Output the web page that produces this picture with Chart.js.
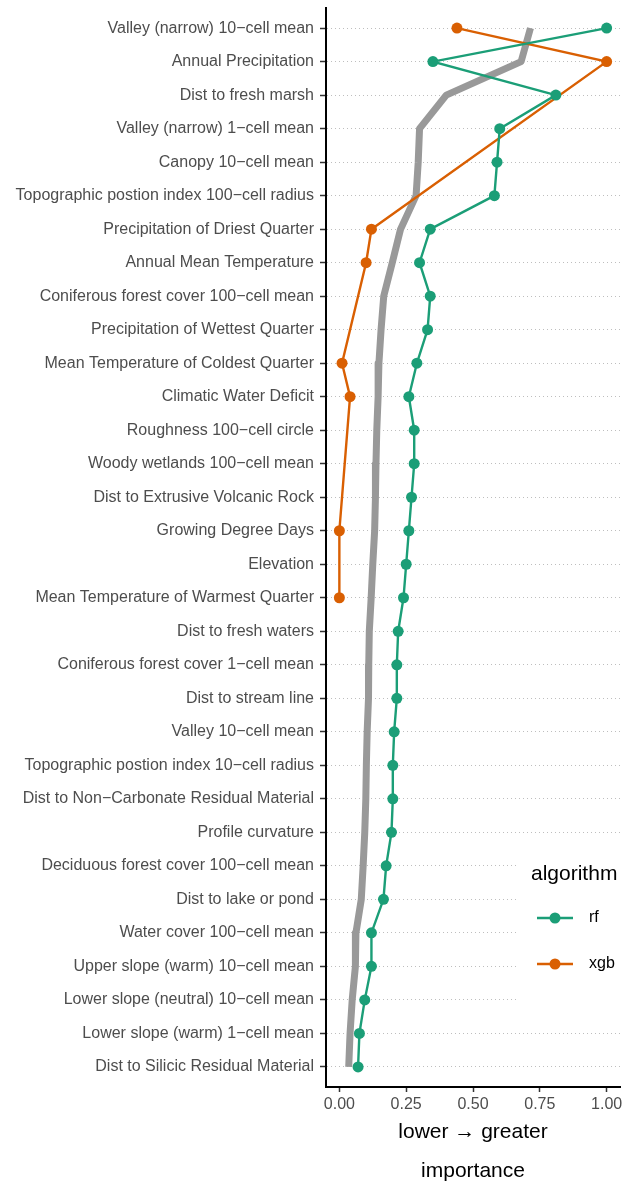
<!DOCTYPE html>
<html>
<head>
<meta charset="utf-8">
<script src="https://cdn.jsdelivr.net/npm/chart.js@4"></script>
<style>
  html, body { margin: 0; padding: 0; background: #fff; }
</style>
</head>
<body>
<canvas id="myChart" width="635" height="1182"></canvas>
<script>
// variables, top to bottom
var variables = [
  "Valley (narrow) 10\u2212cell mean",
  "Annual Precipitation",
  "Dist to fresh marsh",
  "Valley (narrow) 1\u2212cell mean",
  "Canopy 10\u2212cell mean",
  "Topographic postion index 100\u2212cell radius",
  "Precipitation of Driest Quarter",
  "Annual Mean Temperature",
  "Coniferous forest cover 100\u2212cell mean",
  "Precipitation of Wettest Quarter",
  "Mean Temperature of Coldest Quarter",
  "Climatic Water Deficit",
  "Roughness 100\u2212cell circle",
  "Woody wetlands 100\u2212cell mean",
  "Dist to Extrusive Volcanic Rock",
  "Growing Degree Days",
  "Elevation",
  "Mean Temperature of Warmest Quarter",
  "Dist to fresh waters",
  "Coniferous forest cover 1\u2212cell mean",
  "Dist to stream line",
  "Valley 10\u2212cell mean",
  "Topographic postion index 10\u2212cell radius",
  "Dist to Non\u2212Carbonate Residual Material",
  "Profile curvature",
  "Deciduous forest cover 100\u2212cell mean",
  "Dist to lake or pond",
  "Water cover 100\u2212cell mean",
  "Upper slope (warm) 10\u2212cell mean",
  "Lower slope (neutral) 10\u2212cell mean",
  "Lower slope (warm) 1\u2212cell mean",
  "Dist to Silicic Residual Material"
];

var rf = [1.00, 0.35, 0.81, 0.60, 0.59, 0.58, 0.34, 0.30, 0.34, 0.33,
          0.29, 0.26, 0.28, 0.28, 0.27, 0.26, 0.25, 0.24, 0.22, 0.215,
          0.215, 0.205, 0.20, 0.20, 0.195, 0.175, 0.165, 0.12, 0.12, 0.095,
          0.075, 0.07];

var xgb = [0.44, 1.00, null, null, null, null, 0.12, 0.10, null, null,
           0.01, 0.04, null, null, null, 0.00, null, 0.00, null, null,
           null, null, null, null, null, null, null, null, null, null,
           null, null];

var overall = [0.715, 0.68, 0.40, 0.30, 0.295, 0.287, 0.229, 0.198, 0.166, 0.156,
               0.148, 0.145, 0.14, 0.137, 0.135, 0.132, 0.125, 0.119, 0.112, 0.11,
               0.109, 0.104, 0.101, 0.099, 0.095, 0.089, 0.082, 0.062, 0.06, 0.048,
               0.04, 0.035];

var xTicks = [0, 0.25, 0.5, 0.75, 1];

var green = "#1B9E77";
var orange = "#D95F02";

function toPoints(arr) {
  var pts = [];
  arr.forEach(function (v, i) {
    if (v !== null) pts.push({ x: v, y: i });
  });
  return pts;
}

var legendPlugin = {
  id: "legendBox",
  beforeDatasetsDraw: function (chart) {
    var ctx = chart.ctx;
    ctx.save();
    ctx.fillStyle = "#ffffff";
    ctx.fillRect(517, 850, 105, 165);
    ctx.restore();
  },
  afterDraw: function (chart) {
    var ctx = chart.ctx;
    ctx.save();
    ctx.fillStyle = "#000000";
    ctx.textBaseline = "middle";
    ctx.font = "21px 'Liberation Sans', Arial, sans-serif";
    ctx.fillText("algorithm", 531, 874);
    var items = [["rf", green, 918], ["xgb", orange, 964]];
    items.forEach(function (it) {
      ctx.strokeStyle = it[1];
      ctx.lineWidth = 2.4;
      ctx.beginPath();
      ctx.moveTo(537, it[2]);
      ctx.lineTo(573, it[2]);
      ctx.stroke();
      ctx.fillStyle = it[1];
      ctx.beginPath();
      ctx.arc(555, it[2], 5.5, 0, Math.PI * 2);
      ctx.fill();
      ctx.fillStyle = "#000000";
      ctx.font = "16px 'Liberation Sans', Arial, sans-serif";
      ctx.fillText(it[0], 589, it[2]);
    });
    ctx.restore();
  }
};

new Chart(document.getElementById("myChart"), {
  type: "line",
  data: {
    datasets: [
      {
        label: "overall",
        data: toPoints(overall),
        borderColor: "#999999",
        borderWidth: 7,
        pointRadius: 0,
        borderCapStyle: "butt",
        borderJoinStyle: "round",
        order: 3
      },
      {
        label: "xgb",
        data: toPoints(xgb),
        borderColor: orange,
        backgroundColor: orange,
        borderWidth: 2.4,
        pointRadius: 5.5,
        pointBorderWidth: 0,
        order: 2
      },
      {
        label: "rf",
        data: toPoints(rf),
        borderColor: green,
        backgroundColor: green,
        borderWidth: 2.4,
        pointRadius: 5.5,
        pointBorderWidth: 0,
        order: 1
      }
    ]
  },
  options: {
    responsive: false,
    animation: false,
    devicePixelRatio: 1,
    layout: { padding: { top: 8, right: 15, left: 0, bottom: 0 } },
    plugins: {
      legend: { display: false },
      tooltip: { enabled: false }
    },
    elements: { line: { tension: 0 } },
    scales: {
      x: {
        type: "linear",
        min: -0.05,
        max: 1.05,
        afterBuildTicks: function (axis) {
          axis.ticks = xTicks.map(function (v) { return { value: v }; });
        },
        afterFit: function (axis) {
          axis.height = 95;
          axis.paddingLeft = 0;
          axis.paddingRight = 0;
        },
        grid: {
          drawOnChartArea: false,
          drawTicks: true,
          tickLength: 5,
          tickColor: "#333333",
          tickWidth: 1.5
        },
        border: { display: true, color: "#000000", width: 2 },
        ticks: {
          color: "#4D4D4D",
          padding: 3,
          maxRotation: 0,
          font: { family: "'Liberation Sans', Arial, sans-serif", size: 16 },
          callback: function (v) { return Number(v).toFixed(2); }
        },
        title: {
          display: true,
          text: ["lower \u2192 greater", "importance"],
          color: "#000000",
          font: { family: "'Liberation Sans', Arial, sans-serif", size: 21, lineHeight: 1.88 },
          padding: { top: 0, bottom: -9 }
        }
      },
      y: {
        type: "linear",
        reverse: true,
        min: -0.6,
        max: variables.length - 0.4,
        afterBuildTicks: function (axis) {
          axis.ticks = variables.map(function (_, i) { return { value: i }; });
        },
        afterFit: function (axis) {
          axis.width = 326;
          axis.paddingTop = 0;
          axis.paddingBottom = 0;
        },
        grid: {
          color: "#BEBEBE",
          lineWidth: 1,
          drawTicks: true,
          tickLength: 6,
          tickColor: "#333333",
          tickWidth: 1.5
        },
        border: { display: true, color: "#000000", width: 2, dash: [1, 3] },
        ticks: {
          color: "#4D4D4D",
          padding: 6,
          autoSkip: false,
          font: { family: "'Liberation Sans', Arial, sans-serif", size: 16 },
          callback: function (v) { return variables[v]; }
        }
      }
    }
  },
  plugins: [legendPlugin]
});
</script>
</body>
</html>
